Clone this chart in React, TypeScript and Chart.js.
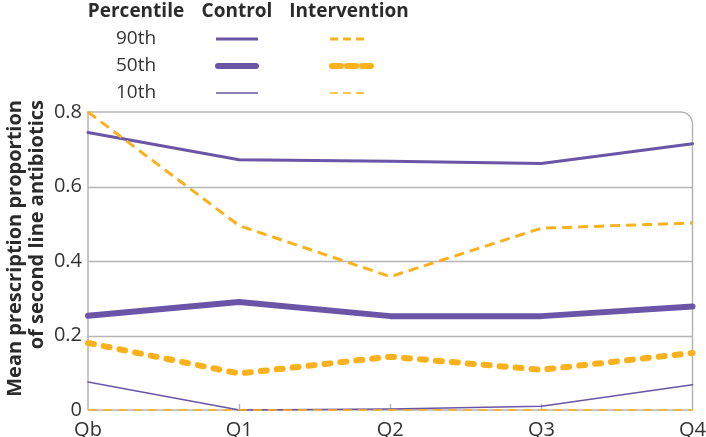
import React, { useEffect, useRef } from "react";
import { Chart, registerables } from "chart.js";
Chart.register(...registerables);

const categories = ["Qb", "Q1", "Q2", "Q3", "Q4"];
const control90 = [0.745, 0.672, 0.668, 0.662, 0.715];
const control50 = [0.253, 0.29, 0.252, 0.252, 0.278];
const control10 = [0.075, 0.0, 0.003, 0.01, 0.068];
const intervention90 = [0.8, 0.495, 0.358, 0.488, 0.502];
const intervention50 = [0.18, 0.098, 0.143, 0.108, 0.153];
const intervention10 = [0, 0, 0, 0, 0];
const yTicks = [0, 0.2, 0.4, 0.6, 0.8];
const percentileLabels = ["90th", "50th", "10th"];
const legendHeaders = ["Percentile", "Control", "Intervention"];
const yTitleLines = ["Mean prescription proportion", "of second line antibiotics"];

const PURPLE = "#6a55a6";
const ORANGE = "#fbb11b";
const GRID = "#b5b5b5";
const TEXT = "#2b2b2b";
const FONT = "'Open Sans', 'Noto Sans', sans-serif";

const lineStyles = [
  { width: 3, dash: [10, 6], cap: "butt" as CanvasLineCap },
  { width: 6, dash: [6, 10], cap: "round" as CanvasLineCap },
  { width: 1.5, dash: [9, 6], cap: "butt" as CanvasLineCap },
];

const framePlugin = {
  id: "frame",
  beforeDatasetsDraw(chart: any) {
    const { ctx, chartArea, scales } = chart;
    const { left, right, top, bottom } = chartArea;
    const y = scales.y;
    const x = scales.x;
    ctx.save();
    ctx.strokeStyle = GRID;
    ctx.lineWidth = 1.5;
    yTicks.forEach((v) => {
      if (v <= 0 || v >= 0.8) return;
      const py = Math.round(y.getPixelForValue(v)) + 0.5;
      ctx.beginPath();
      ctx.moveTo(left, py);
      ctx.lineTo(right, py);
      ctx.stroke();
    });
    for (let i = 1; i < categories.length - 1; i++) {
      const px = Math.round(x.getPixelForValue(i)) + 0.5;
      ctx.beginPath();
      ctx.moveTo(px, bottom);
      ctx.lineTo(px, bottom - 6);
      ctx.stroke();
    }
    const r = 12;
    ctx.beginPath();
    ctx.moveTo(left, bottom);
    ctx.lineTo(left, top);
    ctx.lineTo(right - r, top);
    ctx.arcTo(right, top, right, top + r, r);
    ctx.lineTo(right, bottom);
    ctx.lineTo(left, bottom);
    ctx.stroke();
    ctx.restore();
  },
  afterDraw(chart: any) {
    const { ctx, chartArea } = chart;
    ctx.save();
    // y title
    ctx.fillStyle = TEXT;
    ctx.font = `bold 20px ${FONT}`;
    ctx.textBaseline = "middle";
    ctx.textAlign = "right";
    const titleX = [15, 37];
    yTitleLines.forEach((t, i) => {
      ctx.save();
      ctx.translate(titleX[i], chartArea.top - 12);
      ctx.rotate(-Math.PI / 2);
      ctx.fillText(t, 0, 0);
      ctx.restore();
    });
    // legend
    const colX = [136, 237, 349];
    const rowY = [12, 39, 66, 93];
    ctx.textAlign = "center";
    ctx.font = `bold 19px ${FONT}`;
    legendHeaders.forEach((h, i) => ctx.fillText(h, colX[i], rowY[0]));
    ctx.font = `19px ${FONT}`;
    ctx.fillStyle = "#333";
    percentileLabels.forEach((p, i) => {
      ctx.fillText(p, colX[0], rowY[i + 1]);
      const st = lineStyles[i];
      const yy = rowY[i + 1];
      ctx.lineWidth = st.width;
      ctx.lineCap = st.cap;
      ctx.strokeStyle = PURPLE;
      ctx.setLineDash([]);
      ctx.beginPath();
      const half = i === 1 ? 19 : 21;
      ctx.moveTo(colX[1] - half, yy);
      ctx.lineTo(colX[1] + half, yy);
      ctx.stroke();
      ctx.strokeStyle = ORANGE;
      ctx.setLineDash(i === 1 ? [9, 6] : [8, 5]);
      ctx.beginPath();
      if (i === 1) {
        ctx.moveTo(colX[2] - 17, yy);
        ctx.lineTo(colX[2] + 24, yy);
      } else {
        ctx.moveTo(colX[2] - 19, yy);
        ctx.lineTo(colX[2] + 15, yy);
      }
      ctx.stroke();
    });
    ctx.restore();
  },
};

function makeDataset(label: string, data: number[], color: string, idx: number, dashed: boolean) {
  const st = lineStyles[idx];
  return {
    label,
    data,
    borderColor: color,
    backgroundColor: color,
    borderWidth: st.width,
    borderDash: dashed ? st.dash : [],
    borderCapStyle: dashed ? st.cap : "round",
    borderJoinStyle: "round",
    pointRadius: 0,
    tension: 0,
    fill: false,
    clip: false,
  };
}

export default function App() {
  const ref = useRef<HTMLCanvasElement>(null);
  useEffect(() => {
    document.body.style.margin = "0";
    const chart = new Chart(ref.current!, {
      type: "line",
      data: {
        labels: categories,
        datasets: [
          makeDataset("Intervention 10th", intervention10, ORANGE, 2, true),
          makeDataset("Control 10th", control10, PURPLE, 2, false),
          makeDataset("Intervention 50th", intervention50, ORANGE, 1, true),
          makeDataset("Control 50th", control50, PURPLE, 1, false),
          makeDataset("Intervention 90th", intervention90, ORANGE, 0, true),
          makeDataset("Control 90th", control90, PURPLE, 0, false),
        ] as any,
      },
      options: {
        animation: false,
        responsive: false,
        devicePixelRatio: 1,
        layout: { padding: { top: 112, right: 11, left: 0, bottom: 0 } },
        plugins: { legend: { display: false }, tooltip: { enabled: false } },
        scales: {
          x: {
            offset: false,
            grid: { display: false },
            border: { display: false },
            ticks: { font: { family: FONT, size: 20 }, color: "#333", padding: 0, maxRotation: 0, autoSkip: false },
            afterFit: (s: any) => { s.height = 27; },
          },
          y: {
            min: 0,
            max: 0.8,
            grid: { display: false, drawTicks: false },
            border: { display: false },
            ticks: {
              stepSize: 0.2,
              padding: 6,
              font: { family: FONT, size: 20 },
              color: "#333",
              callback: (v: any) => (Number(v) === 0 ? "0" : Number(v).toFixed(1)),
            },
            afterFit: (s: any) => { s.width = 88; },
          },
        },
      },
      plugins: [framePlugin],
    });
    return () => chart.destroy();
  }, []);
  return (
    <div style={{ position: "fixed", left: 0, top: 0, width: 706, height: 437 }}>
      <canvas ref={ref} width={706} height={437} />
    </div>
  );
}
